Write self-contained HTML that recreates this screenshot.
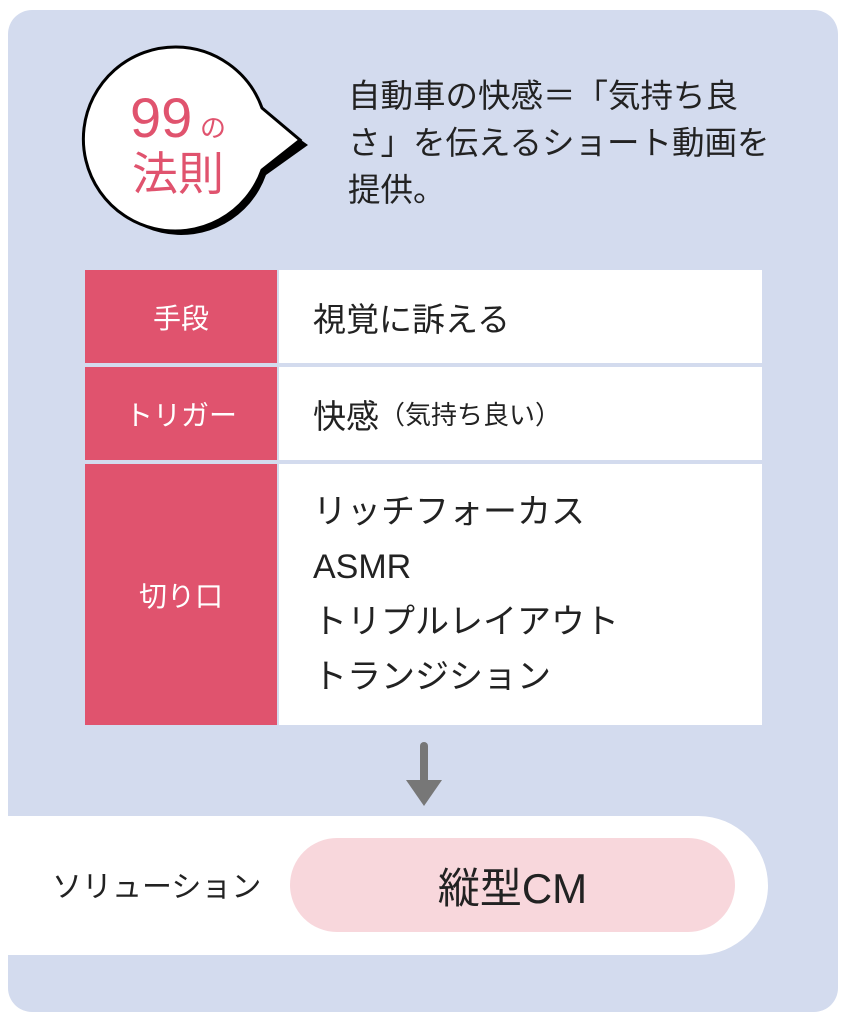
<!DOCTYPE html>
<html><head><meta charset="utf-8"><style>
body{margin:0;width:846px;height:1024px;background:#fff;position:relative;overflow:hidden;font-family:"Liberation Sans","Noto Sans CJK JP",sans-serif;}
.a{position:absolute;}
.panel{left:8px;top:10px;width:830px;height:1002px;background:#d3dbee;border-radius:24px;}
.lab{left:85px;width:192px;background:#e0536e;color:#fff;font-size:28px;display:flex;align-items:center;justify-content:center;}
.val{left:279px;width:483px;background:#fff;color:#222;font-size:33px;display:flex;align-items:center;padding-left:34px;box-sizing:border-box;}
</style></head><body>
<div class="a panel"></div>
<svg class="a" style="left:0;top:0" width="846" height="260">
<path d="M176 50 A90 90 0 0 1 262 110 L304 140 L262 170 A90 90 0 1 1 176 50 Z" fill="#000" transform="translate(4,5)"/>
<path d="M176 47 A92 92 0 0 1 262 108 L300 140 L262 170 A92 92 0 1 1 176 47 Z" fill="#fff" stroke="#000" stroke-width="3"/>
<text x="130" y="137" font-size="56" fill="#e0536e" font-family="Liberation Sans,sans-serif">99</text>
<text x="200" y="137" font-size="26" fill="#e0536e" font-family="Noto Sans CJK JP,sans-serif">の</text>
<text x="132" y="190" font-size="46" fill="#e0536e" font-family="Noto Sans CJK JP,sans-serif">法則</text>
</svg>
<div class="a" style="left:348px;top:73px;width:480px;font-size:32.5px;line-height:47px;color:#222;white-space:nowrap">自動車の快感＝「気持ち良<br>さ」を伝えるショート動画を<br>提供。</div>
<div class="a lab" style="top:270px;height:93px">手段</div>
<div class="a val" style="top:270px;height:93px">視覚に訴える</div>
<div class="a lab" style="top:367px;height:93px">トリガー</div>
<div class="a val" style="top:367px;height:93px">快感<span style="font-size:26px">（気持ち良い）</span></div>
<div class="a lab" style="top:464px;height:261px">切り口</div>
<div class="a val" style="top:464px;height:261px;line-height:55px;font-size:34px">リッチフォーカス<br>ASMR<br>トリプルレイアウト<br>トランジション</div>
<div class="a" style="left:420px;top:742px;width:8px;height:42px;background:#777;border-radius:4px"></div>
<div class="a" style="left:406px;top:780px;width:0;height:0;border-left:18px solid transparent;border-right:18px solid transparent;border-top:26px solid #777"></div>
<div class="a" style="left:8px;top:816px;width:760px;height:139px;background:#fff;border-radius:0 70px 70px 0"></div>
<div class="a" style="left:52px;top:862px;font-size:30px;color:#222">ソリューション</div>
<div class="a" style="left:290px;top:838px;width:445px;height:94px;background:#f8d7dc;border-radius:47px;display:flex;align-items:center;justify-content:center;font-size:42px;color:#222">縦型CM</div>
</body></html>
